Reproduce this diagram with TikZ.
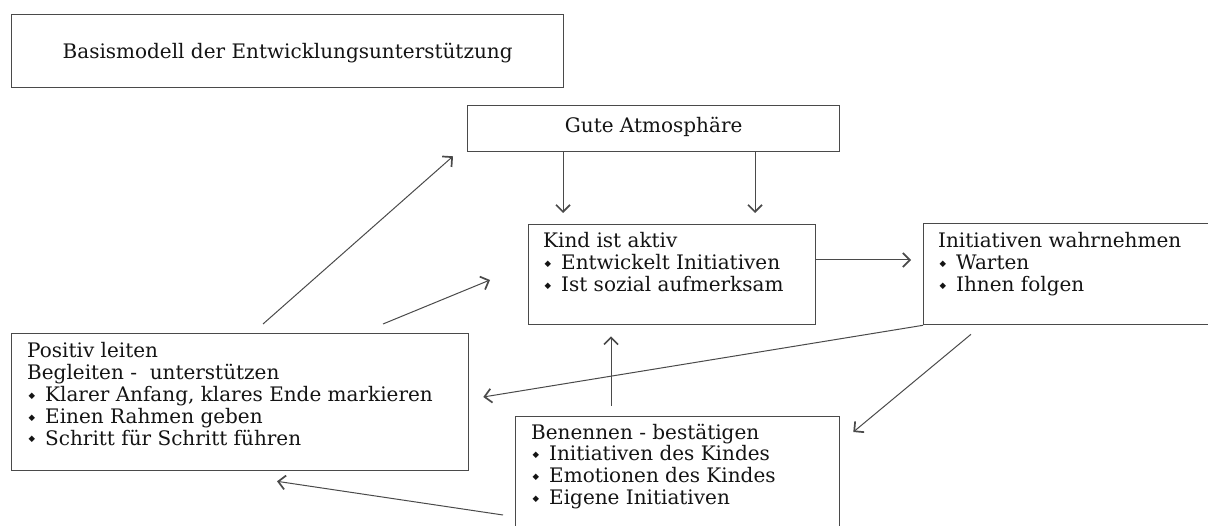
\documentclass[tikz,border=0pt]{standalone}
\usepackage{fontspec}
\setmainfont{DejaVu Serif}
\newfontfamily\bulfont{DejaVu Sans}
\usetikzlibrary{arrows.meta,calc}
\definecolor{boxline}{HTML}{4A4A4A}
\definecolor{inkcol}{HTML}{141414}
\newcommand\bul{\makebox[18pt][l]{\hspace{1.5pt}\raisebox{0.3ex}{\fontsize{8.5}{8.5}\selectfont\bulfont ◆}}}
\tikzset{
  box/.style={draw=boxline, line width=1.3pt, fill=white, rectangle, inner sep=0pt, anchor=north west},
  txt/.style={text=inkcol, font=\fontsize{20}{21.8}\selectfont, align=left, inner sep=0pt, anchor=north west},
  ctxt/.style={text=inkcol, font=\fontsize{20}{21.8}\selectfont, align=center},
  arr/.style={draw=boxline, line width=1pt, -{Straight Barb[length=7pt,width=14pt,line width=1.7pt]}}
}
\begin{document}
\begin{tikzpicture}[x=1pt,y=-1pt]
\useasboundingbox (0,0) rectangle (1208,526);
\clip (0,0) rectangle (1208,526);
% boxes
\node[box, minimum width=552pt, minimum height=73pt] (title) at (11,14) {};
\node[ctxt] (titletxt) at ($(title.center)+(0,2)$) {Basismodell der Entwicklungsunterstützung};
\node[box, minimum width=372pt, minimum height=46pt] (gute) at (467,105) {};
\node[ctxt] (gutetxt) at ($(gute.center)+(0,-2)$) {Gute Atmosphäre};
\node[box, minimum width=287pt, minimum height=100pt] (kind) at (528,224) {};
\node[txt] (kindtxt) at ($(kind.north west)+(15,8.5)$) {Kind ist aktiv\\\bul Entwickelt Initiativen\\\bul Ist sozial aufmerksam};
\node[box, minimum width=290pt, minimum height=101pt] (init) at (923,223) {};
\node[txt] (inittxt) at ($(init.north west)+(15,9.5)$) {Initiativen wahrnehmen\\\bul Warten\\\bul Ihnen folgen};
\node[box, minimum width=457pt, minimum height=137pt] (pos) at (11,333) {};
\node[txt] (postxt) at ($(pos.north west)+(16,9.5)$) {Positiv leiten\\Begleiten -\ \ unterstützen\\\bul Klarer Anfang, klares Ende markieren\\\bul Einen Rahmen geben\\\bul Schritt für Schritt führen};
\node[box, minimum width=324pt, minimum height=140pt] (ben) at (515,416) {};
\node[txt] (bentxt) at ($(ben.north west)+(16,7.5)$) {Benennen - bestätigen\\\bul Initiativen des Kindes\\\bul Emotionen des Kindes\\\bul Eigene Initiativen};
% connectors
\draw[arr] ($(gute.south west)+(96,0)$) -- ($(kind.north west)+(35,-11)$);
\draw[arr] ($(gute.south west)+(288,0)$) -- ($(kind.north west)+(227,-11)$);
\draw[arr] ($(kind.north east)+(0,36)$) -- ($(init.north west)+(-12,37)$);
\draw[arr] ($(init.south west)+(48,9)$) -- ($(ben.north east)+(13,16)$);
\draw[arr] (init.south west) -- ($(pos.north east)+(14,64)$);
\draw[arr] ($(ben.north west)+(96,-10)$) -- ($(kind.south west)+(83,11)$);
\draw[arr] ($(ben.north west)+(-12,99)$) -- ($(pos.south west)+(266,10)$);
\draw[arr] ($(pos.north west)+(252,-9)$) -- ($(gute.south west)+(-14,4)$);
\draw[arr] ($(pos.north west)+(372,-9)$) -- ($(kind.north west)+(-38,56)$);
\end{tikzpicture}
\end{document}
